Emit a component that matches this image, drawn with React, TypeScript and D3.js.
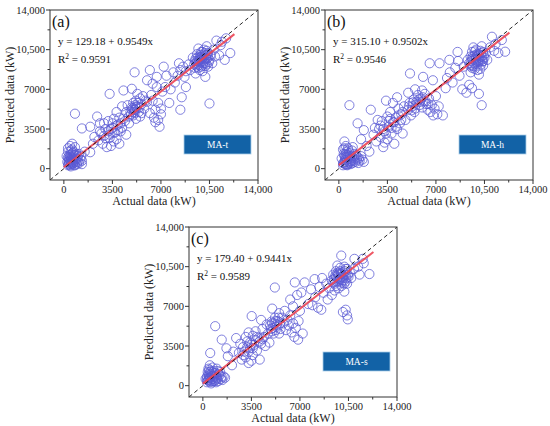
import React from 'react';
import * as d3 from 'd3';

// [actual, predicted] pairs (kW)
const pointsA: [number, number][] = [
  [300, 300], [400, 500], [500, 400], [450, 700], [600, 600], [350, 900], [500, 1000], [700, 500], [650, 800], [800, 700],
  [400, 1200], [550, 1300], [300, 1500], [600, 1700], [450, 2000], [700, 1500], [900, 900], [1000, 600], [1100, 500], [1200, 800],
  [1300, 700], [850, 1200], [750, 300], [250, 600], [500, 200], [950, 400], [1000, 1100], [600, 2200], [300, 1800], [1100, 1300],
  [1300, 400], [200, 1100], [800, 1900], [1250, 1100], [700, 1000],
  [350, 400], [450, 300], [550, 550], [650, 450], [400, 800], [500, 650], [600, 1000], [700, 750], [750, 1200], [850, 550],
  [350, 600], [450, 1100], [550, 850], [650, 1400], [900, 1300], [1000, 900], [800, 300], [600, 400], [300, 1000], [500, 1600],
  [800, 4850], [1300, 3550], [1500, 1500], [1900, 1450], [2100, 2200], [1900, 3700], [2400, 4600], [2600, 4000],
  [2200, 2800], [2500, 2500], [2700, 3100], [2800, 2200], [3000, 3500], [3000, 2700], [3200, 4200], [3300, 3000], [3300, 6600], [3400, 2000],
  [3500, 3600], [3600, 4400], [3700, 3200], [3800, 2600], [3800, 5000], [3900, 3900], [4000, 2200], [4000, 4500], [4200, 3600], [4200, 5500],
  [4300, 6900], [4400, 4200], [4500, 3000], [4500, 5000], [2900, 4000], [3100, 1900], [2600, 3300], [3600, 2400], [4100, 3300], [4700, 4600],
  [3200, 3300], [3400, 3500], [3600, 3200], [3800, 3800], [3300, 2700], [3500, 4000], [3900, 3400], [4100, 4000], [2900, 2900], [4300, 4400],
  [4800, 5000], [4900, 5400], [5000, 4700], [5000, 5800], [5100, 5200], [5100, 8500], [5200, 6000], [5200, 4400], [5300, 5500], [5400, 5000],
  [5500, 6200], [5500, 4600], [5600, 5700], [5700, 6400], [5800, 5300], [5900, 6000], [4900, 7050], [4600, 5600], [5300, 6600], [4700, 4000],
  [5600, 4900], [6000, 5900],
  [4900, 5200], [5050, 5000], [5150, 5600], [5250, 5300], [5350, 5800], [5450, 5400], [5000, 5350], [4850, 4800], [5200, 5450], [5100, 4900],
  [6200, 8700], [6000, 7800], [6400, 7500], [6700, 8100], [6700, 7200], [7200, 9000], [6300, 6500], [6500, 4500], [6600, 4100], [6800, 4300],
  [6900, 3700], [7000, 4800], [6600, 5200], [6800, 5800], [7100, 6800], [6400, 6000], [7000, 5300], [6200, 4900], [7300, 7200],
  [7600, 5800], [7900, 8500], [8000, 7600], [8200, 8200], [8400, 5200], [8500, 6300], [8400, 8700], [8600, 9000], [8800, 7200], [8800, 8600],
  [9000, 9200], [8300, 9300], [7700, 7000], [8700, 8100], [9100, 8700], [7400, 8200],
  [9400, 9200], [9500, 9700], [9600, 9000], [9600, 10100], [9700, 9400], [9800, 9800], [9800, 8700], [9900, 10300], [10000, 9500], [10000, 9100],
  [10100, 9900], [10100, 10500], [10200, 9300], [10200, 8100], [10300, 9700], [10300, 10800], [10400, 10200], [10400, 9000], [10500, 9600], [10500, 5750],
  [10600, 10000], [9500, 8400], [9700, 10600], [10000, 8600], [9300, 9800], [10700, 9300], [9900, 9000], [10200, 10000], [9600, 9500], [10000, 10000],
  [9450, 9500], [10300, 9200], [9750, 9150], [10150, 9650],
  [9550, 9350], [9650, 9800], [9750, 9550], [9850, 10050], [9950, 9700], [10050, 9300], [10150, 10200], [10250, 9750], [10350, 10050], [10450, 9400],
  [9650, 9250], [9900, 9850], [10100, 9450], [10300, 10400], [9800, 9650], [10000, 10300], [10200, 9050], [9700, 8900], [10400, 9800], [9450, 8900],
  [10800, 10500], [11000, 11300], [11300, 10900], [11700, 11500], [12000, 10200], [11600, 9600], [11200, 10000], [10900, 9900], [11400, 11200],
];

const pointsB: [number, number][] = [
  [300, 300], [400, 600], [500, 400], [600, 800], [450, 1000], [700, 600], [350, 1300], [550, 1500], [300, 1700], [650, 1800],
  [800, 1100], [900, 700], [1000, 500], [1100, 900], [1200, 600], [1300, 800], [1400, 500], [1500, 700], [1700, 800], [1800, 600],
  [750, 1400], [500, 2000], [950, 1600], [200, 900], [1100, 1300], [600, 300], [850, 400], [400, 2400], [1250, 1200], [700, 1000],
  [1000, 1900], [1600, 1100], [300, 500],
  [350, 450], [450, 750], [550, 600], [650, 400], [750, 850], [850, 650], [400, 1150], [500, 900], [600, 1200], [950, 1000],
  [1050, 700], [1150, 1100], [700, 1600], [400, 1800], [550, 350], [800, 500], [1350, 1000], [1450, 900], [650, 1100], [500, 1300],
  [760, 5600], [1350, 4000], [1800, 3400], [2300, 5200], [2800, 4300], [1600, 2600], [2000, 2000], [2200, 1500],
  [2500, 3000], [2700, 2400], [2900, 3500], [3000, 2800], [3100, 4200], [3200, 1900], [3300, 3300], [3400, 6000], [3500, 2600], [3500, 4600],
  [3600, 3700], [3700, 5000], [3800, 3100], [3900, 5800], [3900, 4100], [4000, 2200], [4100, 4500], [4200, 3500], [4300, 5300], [4400, 4000],
  [4500, 4800], [4600, 3100], [4700, 5500], [4800, 4300], [3000, 3800], [3300, 2300], [4200, 6300], [2600, 3600],
  [3200, 3500], [3400, 3100], [3600, 4200], [3800, 3600], [4000, 4100], [4100, 3700], [4300, 4700], [4500, 4300], [3700, 4400], [4600, 5000],
  [5000, 5200], [5100, 5800], [5130, 8400], [5200, 4700], [5300, 5500], [5400, 6100], [5500, 5300], [5600, 5900], [5700, 6500], [5800, 5600],
  [5900, 6200], [6000, 5400], [6100, 6000], [6200, 6600], [6300, 5700], [6400, 5200], [6500, 6200], [6600, 5000], [6700, 5600], [6800, 4700],
  [6900, 5300], [7000, 6400], [6075, 8100], [6550, 9300], [6780, 7800], [7260, 9300], [5000, 6700], [5500, 7000], [6000, 6900], [7100, 4800],
  [7500, 4700], [7200, 5500],
  [5050, 5500], [5250, 5150], [5350, 5850], [5550, 5650], [5750, 6100], [5850, 5900], [6050, 6300], [6250, 5950], [5450, 5000], [6450, 5700],
  [7700, 7100], [7970, 9600], [8000, 8500], [8200, 7600], [8400, 8900], [8560, 10300], [8700, 8200], [8900, 7000], [9000, 9000], [9200, 6700],
  [9400, 7400], [9600, 7100], [8600, 9500], [7800, 8000],
  [9400, 9300], [9500, 9900], [9600, 9100], [9600, 10300], [9700, 9600], [9800, 10000], [9800, 8800], [9900, 10500], [10000, 9700], [10000, 9200],
  [10100, 10100], [10100, 8300], [10200, 9500], [10300, 9900], [10300, 10800], [10400, 10300], [10400, 9100], [10500, 9800], [10100, 6600], [10300, 5600],
  [10600, 10200], [9500, 8500], [9700, 10700], [10000, 8700], [9900, 9400], [10200, 10400], [10700, 9600], [9600, 9700], [10050, 9950], [10350, 9450],
  [9850, 9250], [9300, 9600],
  [9550, 9500], [9650, 9900], [9750, 9300], [9850, 9700], [9950, 10100], [10050, 9400], [10150, 9800], [10250, 10200], [10350, 9650], [10450, 10000],
  [9700, 9050], [9900, 9850], [10100, 9600], [10250, 9200], [9800, 10350], [10000, 10000], [9600, 8900], [10400, 9500], [9450, 9100], [10200, 8800],
  [10900, 10700], [11040, 11640], [11300, 11000], [11750, 11350], [11990, 10320], [11500, 10200], [11200, 10400],
];

const pointsC: [number, number][] = [
  [300, 300], [400, 500], [500, 350], [550, 700], [450, 900], [650, 600], [350, 1200], [600, 1300], [800, 800], [900, 500],
  [1000, 700], [1100, 400], [1200, 900], [1300, 600], [1400, 500], [1500, 800], [700, 1600], [500, 1800], [300, 800], [850, 1100],
  [1100, 1300], [600, 200], [950, 300], [400, 1500], [750, 400], [1250, 1200], [200, 600], [1000, 1500], [1600, 700],
  [350, 450], [450, 650], [550, 450], [650, 850], [750, 600], [850, 400], [400, 1000], [500, 750], [600, 1000], [700, 1200],
  [950, 900], [1050, 600], [1150, 1000], [300, 600], [500, 1200], [800, 1300], [1350, 800], [900, 1100], [650, 350], [450, 1400],
  [890, 5250], [1360, 4060], [530, 2880], [1800, 2600], [2100, 1800], [1700, 3300], [2400, 4200], [2200, 3000],
  [2600, 2900], [2800, 2300], [2900, 3400], [3000, 3000], [3100, 2500], [3200, 3900], [3300, 2000], [3400, 3300], [3520, 6140], [3600, 2700],
  [3600, 4400], [3700, 3600], [3800, 4800], [3900, 3100], [4000, 4200], [4100, 2300], [4200, 3700], [4300, 5000], [4400, 4300], [4500, 3500],
  [4600, 5400], [4700, 4600], [4800, 3800], [3100, 4300], [3300, 4700], [2700, 3700], [4200, 5800], [3500, 2200],
  [3200, 3400], [3400, 3800], [3600, 3300], [3800, 4000], [3300, 3000], [3500, 3600], [3900, 4300], [4100, 3900], [2900, 2700], [4300, 4100],
  [4900, 5000], [5000, 5500], [5100, 4600], [5190, 8660], [5200, 6000], [5300, 5200], [5400, 5700], [5500, 6400], [5600, 5000], [5700, 6000],
  [5800, 5500], [5900, 6600], [6000, 4900], [6100, 5800], [6200, 5300], [6300, 6200], [6400, 4700], [6500, 5500], [6600, 4300], [6700, 5100],
  [6870, 4060], [6900, 5700], [7000, 6600], [6630, 9110], [6300, 7600], [6800, 8000], [7100, 8220], [7340, 9110], [5000, 6800], [5500, 4600],
  [6500, 7000], [7200, 4600],
  [4850, 5300], [5050, 5100], [5150, 5500], [5250, 5700], [5350, 5400], [5450, 6000], [5000, 4800], [4950, 5650], [5250, 4900], [5550, 5500],
  [7600, 7200], [7800, 8500], [8060, 9400], [8100, 7800], [8300, 6880], [8540, 6700], [8400, 8700], [8700, 8200], [8900, 9000], [9000, 7600],
  [9100, 8600], [8600, 9500], [7900, 7100], [9300, 8000],
  [9300, 9300], [9400, 9800], [9500, 9000], [9600, 10100], [9700, 9500], [9800, 9900], [9800, 8600], [9900, 10400], [10000, 9600], [10000, 9100],
  [10100, 10000], [10200, 9300], [10200, 8300], [10300, 9800], [10400, 10300], [10400, 9000], [10500, 9600], [10300, 6700], [10400, 6200], [10450, 5850],
  [10100, 6500], [10600, 10000], [9500, 8400], [9700, 10600], [10000, 8800], [9900, 9300], [10700, 9500], [9600, 9600], [10200, 10500], [9980, 11480],
  [10300, 9200],
  [9450, 9400], [9550, 9700], [9650, 9200], [9750, 9800], [9850, 9400], [9950, 9900], [10050, 9300], [10150, 9700], [10250, 10100], [10350, 9500],
  [9600, 8800], [9900, 10100], [10100, 9500], [10300, 10300], [9800, 9200], [10000, 9850], [10200, 9000], [9700, 9950], [10450, 9800], [9400, 9100],
  [10930, 11190], [11530, 11190], [12010, 9850], [11200, 10500], [10900, 10300], [11600, 10800], [11300, 9800],
];

const panelLabels = ['(a)', '(b)', '(c)'];
const modelNames = ['MA-t', 'MA-h', 'MA-s'];
const intercepts = [129.18, 315.1, 179.4];
const slopes = [0.9549, 0.9502, 0.9441];
const r2Values = [0.9591, 0.9546, 0.9589];
const fitRange = [0, 12300];

const majorTicks = [0, 3500, 7000, 10500, 14000];
const minorTicks = [1750, 5250, 8750, 12250];
const tickLabels = ['0', '3500', '7000', '10,500', '14,000'];

const FONT = "'Liberation Serif', serif";
const W = 208;
const H = 170;

interface PanelProps {
  left: number;
  top: number;
  idx: number;
  points: [number, number][];
}

const Panel: React.FC<PanelProps> = ({ left, top, idx, points }) => {
  const x = d3.scaleLinear().domain([-1000, 14000]).range([0, W]);
  const y = d3.scaleLinear().domain([-1000, 14000]).range([H, 0]);
  const a = intercepts[idx];
  const b = slopes[idx];
  const fit = d3.line<number>().x(d => x(d)).y(d => y(a + b * d));
  const diag = d3.line<number>().x(d => x(d)).y(d => y(d));
  const txt = { fontFamily: FONT };

  return (
    <g transform={`translate(${left},${top})`}>
      <defs>
        <clipPath id={`clip${idx}`}>
          <rect x={0} y={0} width={W} height={H} />
        </clipPath>
      </defs>
      <g clipPath={`url(#clip${idx})`}>
        {points.map((p, i) => (
          <circle key={i} cx={x(p[0])} cy={y(p[1])} r={4.6}
            fill="none" stroke="#5a5ad4" strokeWidth={0.85} strokeOpacity={0.9} />
        ))}
        <path d={fit(fitRange) || ''} stroke="#ec4452" strokeWidth={2} strokeOpacity={0.9} fill="none" />
        <path d={diag([-1000, 14000]) || ''} stroke="#111" strokeWidth={0.9}
          strokeDasharray="4,3" fill="none" />
      </g>
      <rect x={0} y={0} width={W} height={H} fill="none" stroke="#333" strokeWidth={1} />

      {/* x axis */}
      {majorTicks.map((t, i) => (
        <g key={`x${t}`}>
          <line x1={x(t)} x2={x(t)} y1={H} y2={H + 4} stroke="#333" />
          <text x={x(t)} y={H + 13} textAnchor="middle" fontSize={10.5} fill="#222" style={txt}>{tickLabels[i]}</text>
        </g>
      ))}
      {minorTicks.map(t => (
        <line key={`xm${t}`} x1={x(t)} x2={x(t)} y1={H} y2={H + 2.5} stroke="#333" />
      ))}
      {/* y axis */}
      {majorTicks.map((t, i) => (
        <g key={`y${t}`}>
          <line x1={-4} x2={0} y1={y(t)} y2={y(t)} stroke="#333" />
          <text x={-5} y={y(t) + 3.8} textAnchor="end" fontSize={10.5} fill="#222" style={txt}>{tickLabels[i]}</text>
        </g>
      ))}
      {minorTicks.map(t => (
        <line key={`ym${t}`} x1={-2.5} x2={0} y1={y(t)} y2={y(t)} stroke="#333" />
      ))}

      <text x={W / 2} y={H + 25} textAnchor="middle" fontSize={12} fill="#222" style={txt}>Actual data (kW)</text>
      <text transform={`translate(${-36},${H / 2}) rotate(-90)`} textAnchor="middle" fontSize={12} fill="#222" style={txt}>
        Predicted data (kW)
      </text>

      <text x={2} y={17} fontSize={16} fill="#111" style={txt}>{panelLabels[idx]}</text>
      <text x={8} y={35} fontSize={11} fill="#111" style={txt}>
        {`y = ${a.toFixed(2)} + ${b.toFixed(4)}x`}
      </text>
      <text x={8} y={53} fontSize={11} fill="#111" style={txt}>
        R<tspan dy={-4} fontSize={7.5}>2</tspan><tspan dy={4}>{` = ${r2Values[idx].toFixed(4)}`}</tspan>
      </text>

      <rect x={134} y={125} width={67} height={19} fill="#1262a6" stroke="#a8cde8" strokeWidth={0.8} />
      <text x={167.5} y={138} textAnchor="middle" fontSize={9.5} fill="#fff" style={txt}>{modelNames[idx]}</text>
    </g>
  );
};

export default function App() {
  return (
    <svg width={550} height={426} style={{ position: 'absolute', left: 0, top: 0, background: '#fff' }}>
      <Panel left={50} top={10} idx={0} points={pointsA} />
      <Panel left={325} top={10} idx={1} points={pointsB} />
      <Panel left={189} top={227} idx={2} points={pointsC} />
    </svg>
  );
}
